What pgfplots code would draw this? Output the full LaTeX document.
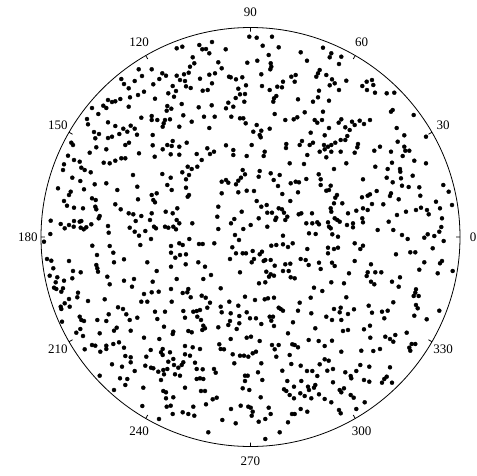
\documentclass[border=0pt]{standalone}
\usepackage{pgfplots}
\pgfplotsset{compat=1.18}
\usepgfplotslibrary{polar}
\usepackage{pgfplotstable}
\usepackage{fontspec}
\setmainfont{Liberation Serif}
\pgfplotstableread{
px py
138.7 69.3
121.3 79
142 76
124 84
134.7 81
128.7 88.3
144 91.7
138 95
108 100
112 102
115.3 101.3
120.3 99
130 97.3
92 108
103.3 105.7
106.3 108
98.3 114
128.7 106.7
141.3 117.7
87 119
88 124.3
108 122.3
115.3 126
130.7 125.7
123.3 128.7
134.7 128.7
94 132
99 134
95.3 138.3
112 136.7
108 138
119.3 134
127.3 131.7
137 134.7
71.3 142.7
73 145
96.3 147.3
106.3 149.3
125.3 145
129 142.7
89.7 152.7
139 153.3
68 155.7
74 160
79.7 161.7
121.3 158.3
125.3 158.3
115.3 160.7
103.7 162.7
109.7 163.3
64 164.3
249.3 36.7
256.7 37.7
176.7 48.3
182.3 46.7
199.3 45
202.3 49.3
206 49
212 42
209.3 53.3
225.7 49.3
192.7 57.3
247.3 62.7
257.3 60.7
194.3 63.3
190 66.7
218.3 62.3
221.7 68.3
151.7 69.3
162.3 73.3
166 75.7
159.3 79
176.7 75.7
180 80
184 74.3
188.7 72.7
185 81
200 78.7
209.3 74.7
215 73.3
229 76.7
230.7 77.3
236 79.3
242.3 77.3
212 83.3
153.3 84.3
172.7 86
186 86.3
190.7 88
176 91
202.7 90.7
207.7 90
238.3 88.7
246 85.3
168.3 93.3
174 96.7
240 94.3
245 94
155 98.7
235.7 98
244.3 101.7
228.3 102.7
181.7 104
211.7 105.3
167.3 106
171.3 108.7
198.7 107.3
226 108.3
233.3 106.7
166.7 110.7
151.7 116
183.3 115.3
204 116.7
214.7 116.7
231.3 116.7
151.7 120
157.3 120
165 120
170 119.3
240 118.3
243.3 118.3
245.7 123.3
163.7 123.3
191.7 121.7
256.7 125
162.7 126.7
179.3 126.7
209.3 128
253.3 131.7
152.7 135
186.7 142.7
172.7 141
167.3 145
171.7 146
179.3 146.7
162.7 149.3
152.7 145.3
226 145.3
251.7 145
207.3 148.3
210 154
214 151.7
233.3 150
170.7 154.3
179.3 154.7
196.7 154
154.7 156.7
233.3 155
246.7 156
201.7 160
272 36.7
262.7 45.7
278.7 47.3
300.7 52.3
323 47.7
331.3 53.3
329.7 57.3
341.3 56.7
268.7 55
307 60.7
270.7 63.3
271.3 66.7
270.3 69.3
339 64
319.7 70
318 73.3
316.3 76.7
326.3 75
261.3 74.3
291.3 76.7
295.7 75
294.7 81.7
283 81.7
332 79.3
334.7 83.3
346.3 80.7
262 86
277.3 86.7
282 87.3
269.7 90
329.7 85.3
339 90
362.3 86
319 90.7
276.3 96
274 98.3
273.3 101.7
298 99.3
313 101.7
318 97.3
329 100.7
323 111.7
304.7 112.3
274.7 114
285.3 120
293.7 119.3
297.3 117.3
314.7 120
317.3 122.7
322 120
338.7 122.7
341.3 119.3
345.3 127.3
352 121.7
354.7 125
359.7 120.7
364 124
349.7 130
329 128
261.3 130.7
269.7 128.7
259.7 135
260.7 137.3
310.7 132.7
324.7 135.3
347.3 136
345.3 140
340.7 140
335.3 142.7
331.3 145
328 146.7
324 145
302 141
299.7 145
286.3 144
286 148
309.7 145
313 142.7
358 144
357.3 147.3
319.7 151.7
324.7 149.3
331.3 151.7
340.7 151.7
354.7 152.7
264.7 151.7
263.7 156
307.3 155
326.3 157.3
289.7 163.3
304 164
346.3 163.3
372 80
366.7 81.7
373.3 85
367 90
375 92.7
386.7 93.3
394.3 92.7
392.7 110
391 111.7
413.7 115
370 120
396.7 128
404.3 135.3
426 136.7
397.7 141.7
380 146.7
374.3 150.7
404.3 146.7
405.3 150.7
409.3 150.7
391 151.7
402.7 156
414.3 160.7
426 163.3
392 162.7
63 170
81.3 167.7
84.7 170
90.7 172.3
133 175
72.3 177.7
80.3 181
94.7 184.3
106.3 183.3
137.3 186.7
58 188.3
84 189.3
117.3 190
70.7 191.7
69 195
138 199.3
92 198.3
95.7 200
64 201
67 205.7
74 207.7
83 208.3
95.3 206.7
96.3 209.3
115.3 204.3
120.7 209.3
128.7 213.3
133.3 214.3
141.3 216
99.7 216
98.7 218.3
135.7 221
50.7 220.7
60.7 224
64.7 228.3
69 225
73.7 226.7
74 221
79.7 221.7
81.3 221
80.7 227.7
83.7 229.3
86.3 227.3
91.3 224.3
108 226
129.7 227.7
134.7 231.7
139 235.7
145.3 231
108.7 232.7
50.3 234
44 241.7
92.3 245.7
109.7 246
140.3 245
113.3 252.7
97 255
47 259
51.3 260.7
69 261
114 262.3
124 259.3
147.3 262.3
96.3 265
97.3 268.3
98 271.7
53.3 268.3
73 271
80.7 272.3
49.7 275.7
57.3 277.3
64 280.7
72.3 278.3
107.3 276.7
134 279
124 280.7
55.7 282.3
109.7 284.3
132 286.7
54 287.7
56.3 289
63 288.3
61.3 291.7
78 292.7
77.3 297.3
69 299
88 301
104.7 299.3
144 294
141.3 301.7
147.3 301.7
64.7 303.3
60.7 306.7
61.3 309
69.7 306.7
118 307.3
123 309
108.7 314.3
126.3 314.3
187.7 166.7
191.7 169
197.3 166.7
182.3 172.3
162.3 174
170.7 177.7
167.3 185
171.7 190
189 175
186 179.3
186 187.7
189 195
187.7 196.7
242.7 170
245 174.3
241 177.7
238.3 180.7
236 184.3
221.7 181.7
226 180
228.3 182.7
238.3 192.3
246.7 190.7
254 191
221.7 193.3
256.7 201
156.7 193.3
151.7 195
153.3 200
155 202.3
151.7 213.3
150 220
165.7 211.7
172.7 213.3
177.3 208.3
176.7 220
179.3 223.3
173.3 226.7
176 229.3
154 226.7
156 228.3
165 226.7
168.3 227.7
192.3 223.3
218.3 206.7
217.3 216.7
218.3 229
241.7 211.7
234.3 219
231 223.3
243.3 229
250.7 225
151 239
189.3 239
179.3 243.3
182.7 245
171 246
171 252.7
180 255
186 254.3
175.3 257.7
199 244
202.7 244
214.3 243.3
235 235
239 240
232.3 247.3
236 253.3
242.7 253.3
246 253.3
252.7 251
230 259
251.7 262.3
254 259
198.3 262.3
205 266.7
185.7 264.3
171 266.7
156.7 271
240 272.3
211 275
203.3 279
176.7 279
152.7 281.7
171 289
158.7 291.7
151.7 292.3
182.7 293
187.3 292.3
188.3 289
190.7 297.3
201.7 295.7
205.7 297.7
220.7 288.3
245 296.7
255 300
171.7 301.7
210 302.7
207.3 307.7
229.3 301.7
238.3 305.7
220.7 306.7
155 311.7
165 311.7
183.3 311
193.3 311.7
196.7 311
200 310
221.7 312.3
230.7 313.3
246.7 312.3
334 169
259.7 171
258.7 176.7
270.7 173.3
279.7 175
273.7 180
278 186
282.3 194
290.7 183.3
295.7 181.7
299 182.3
298 192.3
306.3 179
318.7 174.3
320.7 179.3
320.7 185
330.7 185.7
326.3 190.7
329 190
337 195
335.3 197.7
363 179.3
362 197.3
290.3 201
261.3 206.7
266.7 205
267.3 212.7
272 212.7
278.7 208.3
282 209.3
284 212.7
276.3 217.7
275.3 220
287.3 216.7
285.3 220
258.7 218.3
267.3 226.7
334 203.3
342.3 203.3
330.7 208.3
331.3 211.7
312 213.3
298.7 214.3
301.3 213.3
348 213.3
356.3 210.7
363 208.3
334.7 218.3
337.3 220
339.7 221.7
328 222.3
329 226.7
330.7 228.3
306.3 223.3
312.3 223.3
317.3 222.3
319 224.3
347 225
353 223.3
353 227.3
362.3 218.3
363 222.3
309 233.3
315.7 234
332.3 234.3
338 236.7
283 235.7
271.3 245.7
276.3 245
283 244.3
288 247
292.7 243.3
307.3 249
328 247.7
334 249
338 247.7
328 253.3
354.7 243.3
363 245.7
360.3 249
262 251.7
259.7 254.3
265.3 260
263.7 261
270.7 260
300.7 259
305.7 260
308.7 265
285.3 264.3
290.3 263.7
274.7 265.7
319 262.7
320.7 269
332 262.7
334.7 266
354.7 261
283 271
288.7 271
266.3 271.7
270.7 274.3
269 276.7
274 275.7
290.7 277.3
294.7 278.3
349 273.3
259 283.3
265.3 282.3
331.3 282.3
344 283.3
314 287.7
322.3 291
310.7 297.7
264.7 299.3
268 298.3
274 297.7
346.3 297.3
299.7 302.7
278.7 307.7
280.7 309
283 310.7
298 310.7
311.3 313.3
334 309
340.7 307.7
339.7 312.3
354 309.3
348 314
375.3 166.7
387.7 169
400 169
400.3 171.7
386.7 177.7
392.7 182.3
401 178.3
412.7 175.7
402 185.7
408.7 187
419.3 187.3
443.3 185
448.7 191.7
376.7 191
370 194.3
367.7 195.7
391 193.3
390 196
398.7 199.3
420.3 195.7
436 201.7
452 205
372 204
383.3 204.3
367.7 210
397 215
406 211.7
416 210
421 207.7
427 210
428.7 214.3
440 208.3
442 218.3
388.7 221.7
377.7 230
393.3 230
441.3 227
439.3 231.7
402 235
407.7 239
424.3 237.7
427.7 234.3
434.3 236
443.7 241
432.7 248.3
396 254.3
410.3 252.3
415.3 252.3
424.3 262.3
442 261
440 263.3
371 264.3
419.3 269.7
437.7 273.3
452.7 271
367.7 272.3
366.7 276
375.3 272.3
381.3 272.3
400 277.3
392 281.7
371 281.7
374.3 284.3
398.7 286.7
416 289.3
415.3 292.7
413.7 296
418.7 296
393.3 302.3
368.7 305.7
416 305
417.7 308.3
382 311.7
387.7 310.7
372 312.7
439.3 310.7
62 321.7
79.7 316.7
81.3 320
84 321
97.3 320
106.3 321
137.3 317.7
129.7 320
80.3 329
76.3 332.7
83 336
99.7 333.3
116.7 327.7
114 330.7
130.7 330.7
144 337.7
119 342.3
113.3 344
92 345
95.3 345.7
106.3 345.7
106.3 349
84.7 349.3
100.3 351.7
124 347.7
125.3 356
130.7 357.3
146.3 356.7
130.7 362.3
112 364.3
122 366.7
134.7 371
145.3 365.7
99.7 375.7
120 378.3
127.3 379
125.3 385
114 390
143.3 387.7
142.3 406
157.3 319
185 317.7
197.3 316.7
201 320
239.3 316
239.3 323.3
230 321
228.3 325
236.7 329
250 318.3
256 318.3
164 326.7
173.3 331.7
172.7 334
188.3 331
191.7 332.3
203.3 325.7
205 328.3
202.3 330
218.3 327.3
230.7 339
246.7 337.7
251 336.7
159.3 339
150.7 350
162.7 349
161 352.3
162.7 355
170 352.3
185 346
192.7 347.3
200 349
185 354.3
190 355.7
219.3 344.3
220.7 349
224 349.3
232.7 354.3
240 355.7
244 355.7
248.3 356.7
252.7 353.3
256 351.7
168.3 361.7
173.3 359
174 365
178.3 367.7
181.7 365
183.3 362.3
195 362.7
234.3 363.3
151 367.7
153.3 368.3
158.3 371.7
163.3 370
167.3 369
164 374.3
175 374.3
180 375.7
196.7 369
202.7 369.3
214 369
215.7 372.7
196.7 379
200 378.3
203.3 379
245 375.7
247.7 375.7
245 381
161 380
185 387.7
242.7 388.3
249.3 390
163.3 391
166 392.3
201 391
205 391
166 398.3
173.3 397.3
216.7 397.7
212.7 399.3
206 404.3
166.7 406.7
170.7 405.7
193.3 406.7
240.7 405.7
231 409
248.3 406.7
250.7 407.7
252.7 411.7
251.7 415.7
172.7 414
182.7 412.3
188.3 414
194.3 415.7
159 419
222.3 420
235.7 423.3
208.3 432.3
269.7 316.7
273 316.7
271.3 320.7
261.3 324
274 326
293 322.3
326.3 316.7
332 320
341.3 320
315.3 328.3
288 333.3
308.7 340
318.7 341
324.7 346
332 340.7
343 331
348 330
364 329.3
259.7 341
272 345
278.7 345
274.7 349.3
292.3 344.3
294.7 345
298 347.3
276.3 356.7
289.7 355
341.3 351.7
361.3 350.7
261.3 363.3
291.3 364
300.7 365.7
319.7 364.3
324.7 359.3
328.7 360.7
360.3 365
282.3 370.7
307 371
312.3 371
317.3 376
327.3 370.7
333 369
345.3 372.3
356.3 371
350.7 376
351.3 378.3
364 380
258 372.3
262.3 380
287.3 381
301.3 381
294 386.7
308 386.7
315.3 385
314 387.7
333 382.3
284 389.3
286.3 391
289.7 395
294 398.3
300.3 393.3
304.7 396
309 390
311.3 398.3
319 394.3
339.7 390
341.3 392.3
344 388.3
350.7 395
353.7 397.7
260.7 397.3
324.7 399
331.3 402.3
268.7 407.7
300.7 409
307.3 411.7
339 410
340.7 413.3
356.3 409
364.7 402.3
270.7 414
265.3 419
292 414
294.7 414
288 422.3
258.7 421.7
279.7 432.3
265.3 439
414.3 315.7
384.3 318.3
426.7 319.3
370 325.7
370.3 337.7
385.3 336.7
390 339
395.3 335
393.3 341.7
406.7 332.7
411.7 344
415.3 344
409.3 347.7
410.3 350.7
373.3 351
380 349
369.3 366.7
390 367.3
386.7 376.7
384.3 379
382 382.7
392 382.7
369.3 381.7
}\pts
\begin{document}
\begin{tikzpicture}
\begin{polaraxis}[
  scale only axis,
  width=419pt, height=419pt,
  ymin=0, ymax=209.5,
  xtick={0,30,...,330},
  ytick=\empty,
  grid=none,
  clip=false,
  separate axis lines,
  x axis line style={line width=0.8pt},
  y axis line style={draw=none},
  xtick align=outside,
  major tick length=4pt,
  tick style={line width=0.8pt, black},
  /pgf/number format/assume math mode=true,
  xticklabel style={font=\fontsize{13}{15}\selectfont, anchor=center, inner sep=0pt, shift={(\tick:17pt and 19pt)}},
]
\addplot[only marks, mark=*, mark size=2.0pt, black, fill=black, data cs=cart]
  table[x expr=\thisrow{px}-250.5, y expr=237-\thisrow{py}] {\pts};
\coordinate (C) at (axis cs:0,0);
\end{polaraxis}
\pgfresetboundingbox
\path[use as bounding box] (C) ++(-250.5pt,237pt) rectangle ++(477pt,-475pt);
\end{tikzpicture}
\end{document}
